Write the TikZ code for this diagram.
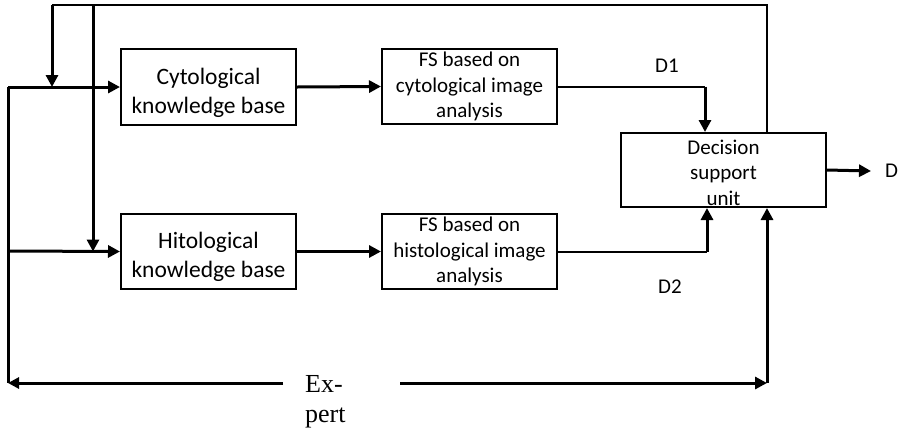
\documentclass[tikz,border=0pt]{standalone}
\usepackage{fontspec}
\newfontfamily\calib{Carlito}
\newfontfamily\tnr{Liberation Serif}
\usetikzlibrary{arrows.meta}
\begin{document}
\begin{tikzpicture}[x=1pt,y=-1pt,
  box/.style={draw,line width=2pt,inner sep=0pt,align=center,font=\calib\fontsize{21}{25.6}\selectfont},
  kbox/.style={box,font=\calib\fontsize{23.5}{29}\selectfont},
  wide/.style={line width=3pt},
  mid/.style={line width=2pt},
  tip/.style={-{Triangle[length=12pt,width=12pt]}},
  lbl/.style={inner sep=0pt,font=\calib\fontsize{21}{25.6}\selectfont}]
\useasboundingbox (0,0) rectangle (899,432);

\node[kbox,minimum width=175,minimum height=76] (cyto) at (208.5,87) {\rule{0pt}{28pt}Cytological\\knowledge base};
\node[kbox,minimum width=175,minimum height=75] (histo) at (208.5,251.5) {\rule{0pt}{28pt}Hitological\\knowledge base};
\node[box,minimum width=175,minimum height=75] (fsc) at (469.5,86.5) {FS based on\\cytological image\\analysis};
\node[box,minimum width=175,minimum height=75] (fsh) at (469.5,251.5) {FS based on\\histological image\\analysis};
\node[box,minimum width=205,minimum height=74] (dec) at (723.5,170) {\rule{0pt}{20pt}Decision\\support\\unit};

\node[lbl] (d1) at (667,66) {D1};
\node[lbl] (d2) at (670,287) {D2};
\node[lbl,anchor=west] (dout) at (885,171) {D};
\node[inner sep=0pt,anchor=north west,align=left,font=\tnr\fontsize{26}{30}\selectfont] (expert) at (305,375) {Ex-\\pert};

\coordinate (t1) at (52,5);
\coordinate (t2) at (93,5);
\coordinate (tR) at (767,5);
\coordinate (cL) at (8,87);
\coordinate (hL) at (8,251);
\coordinate (bL) at (8,383);
\coordinate (bR) at (767,383);
\coordinate (eL) at (283,383);
\coordinate (eR) at (400,383);

% feedback
\draw[mid] (dec.north -| tR) -- (tR) -- (t1);
\draw[wide,tip] (t1) -- (t1 |- cyto.west);
\draw[wide,tip] (t2) -- (t2 |- histo.west);

% inputs
\draw[wide,tip] (cL) -- (cyto.west);
\draw[wide,tip] (hL) -- (histo.west);
\draw[wide] (cL) -- (bL);

% knowledge -> FS
\draw[wide,tip] (cyto.east) -- (fsc.west);
\draw[wide,tip] (histo.east) -- (fsh.west);

% FS -> decision
\draw[mid] (fsc.east) -- (fsc.east -| 705,0);
\draw[wide,tip] (fsc.east -| 705,0) -- ([xshift=-18.5pt]dec.north);
\draw[mid] (fsh.east) -- (fsh.east -| 707,0);
\draw[wide,tip] (fsh.east -| 707,0) -- ([xshift=-16.5pt]dec.south);

% decision -> D
\draw[wide,tip] (dec.east) -- ([xshift=-14pt]dout.west);

% expert
\draw[wide,-{Triangle[length=11pt,width=11pt]}] (eL) -- (bL);
\draw[wide,tip] (eR) -- (bR);
\draw[wide,tip] (bR) -- (dec.south -| bR);
\end{tikzpicture}
\end{document}
